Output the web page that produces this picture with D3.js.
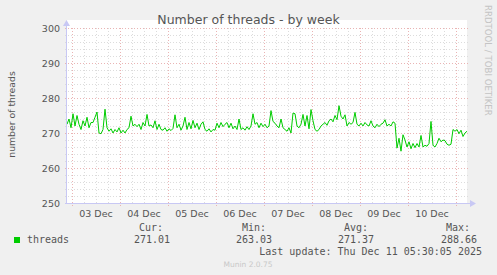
<!DOCTYPE html>
<html lang="en">
<head>
<meta charset="utf-8" />
<title>Number of threads - by week</title>
<script src="https://cdnjs.cloudflare.com/ajax/libs/d3/7.8.5/d3.min.js"></script>
<style>
html, body {
  margin: 0;
  padding: 0;
  background: #f0f0f0;
}
text {
  font-family: "DejaVu Sans", sans-serif;
  fill: #555;
}
.mono {
  font-family: "DejaVu Sans Mono", monospace;
  font-size: 10px;
  fill: #555;
}
</style>
</head>
<body>
<svg id="chart" width="497" height="275"></svg>
<script>
var title = "Number of threads - by week";
var yLabel = "number of threads";
var sideLabel = "RRDTOOL / TOBI OETIKER";
var footer = "Munin 2.0.75";

// one sample per hour
var startTime = Date.UTC(2025, 11, 2, 21, 30);
var endTime = Date.UTC(2025, 11, 11, 5, 30);
var threads = [
  272.5, 274.0, 271.5, 275.5, 272.0, 275.0, 272.5, 271.0, 273.5, 272.0,
  274.5, 271.5, 273.0, 273.0, 274.5, 276.0, 270.0, 269.8, 271.0, 276.8,
  271.5, 270.5, 271.2, 270.0, 271.0, 270.3, 271.5, 270.0, 270.8, 270.0,
  271.0, 271.5, 274.8, 272.0, 272.5, 271.8, 272.5, 271.0, 273.0, 272.0,
  275.3, 272.0, 272.3, 271.5, 273.5, 271.0, 272.5, 271.0, 270.8, 271.5,
  270.5, 271.2, 270.7, 271.3, 275.2, 271.5, 272.5, 270.8, 272.0, 274.5,
  271.0, 273.0, 271.2, 273.6, 271.5, 272.8, 271.0, 272.5, 273.2, 271.0,
  270.5, 271.2, 270.3, 271.0, 270.8, 272.8, 271.5, 273.0, 271.8, 272.5,
  273.0, 271.5, 272.8, 271.2, 272.0, 271.0, 274.0, 271.0, 271.5, 270.8,
  271.8, 271.0, 272.0, 275.5, 272.5, 273.0, 271.5, 272.8, 271.8, 272.5,
  271.5, 272.0, 276.4, 273.3, 272.8, 272.0, 271.5, 274.0, 271.5, 271.0,
  270.5, 271.5, 270.0, 275.7, 275.5, 272.0, 271.5, 272.5, 275.3, 272.0,
  275.0, 271.2, 276.7, 273.5, 271.0, 270.5, 271.0, 272.0, 272.5, 273.0,
  272.2, 273.5, 274.0, 273.2, 275.0, 273.8, 277.8, 274.8, 274.0, 275.2,
  272.0, 273.0, 272.5, 273.0, 275.9, 272.5, 272.0, 272.8, 272.0, 273.0,
  272.3, 272.0, 273.5, 272.0, 271.5, 272.5, 271.8, 272.5, 272.8, 273.8,
  272.0, 272.5, 272.0, 273.2, 272.8, 265.7, 268.5, 264.8, 269.5, 268.0,
  266.0, 267.5, 265.5, 267.0, 265.8, 267.0, 266.0, 269.3, 266.0, 266.5,
  266.2, 267.0, 273.3, 266.5, 266.0, 267.0, 268.5, 267.5, 268.0, 267.8,
  266.8, 266.5, 266.8, 271.0, 270.5, 271.0, 269.8, 270.8, 269.0, 270.0,
  270.5
];

var yTicks = [250, 260, 270, 280, 290, 300];
var dayLabels = ["03 Dec", "04 Dec", "05 Dec", "06 Dec", "07 Dec", "08 Dec", "09 Dec", "10 Dec"];
var seriesName = "threads";
var legendHeads = ["Cur:", "Min:", "Avg:", "Max:"];
var legendValues = ["271.01", "263.03", "271.37", "288.66"];
var lastUpdate = "Last update: Thu Dec 11 05:30:05 2025";

var plot = {left: 67, right: 467, top: 28, bottom: 203};
var lineColor = "#00cc00";

var svg = d3.select("#chart");

var x = d3.scaleUtc()
  .domain([startTime, endTime])
  .range([plot.left, plot.right]);

var y = d3.scaleLinear()
  .domain([250, 300])
  .range([plot.bottom, plot.top]);

// plot background
svg.append("rect")
  .attr("x", plot.left)
  .attr("y", plot.top - 8)
  .attr("width", plot.right - plot.left)
  .attr("height", plot.bottom - plot.top + 8)
  .attr("fill", "#fff");

var grid = svg.append("g").attr("shape-rendering", "crispEdges");
var minorColor = "#dcdcdc";
var majorColor = "#eab4b4";

// minor horizontal grid, every 2
grid.selectAll(".hmin")
  .data(d3.range(252, 300, 2).filter(function(v) { return v % 10 !== 0; }))
  .enter().append("line")
  .attr("x1", plot.left - 2).attr("x2", plot.right + 2)
  .attr("y1", function(d) { return Math.round(y(d)) + 0.5; })
  .attr("y2", function(d) { return Math.round(y(d)) + 0.5; })
  .attr("stroke", minorColor)
  .attr("stroke-dasharray", "1,2");

// minor vertical grid, every 6 hours
grid.selectAll(".vmin")
  .data(d3.utcHour.every(6).range(new Date(startTime), new Date(endTime)).filter(function(d) { return d.getUTCHours() !== 0; }))
  .enter().append("line")
  .attr("x1", function(d) { return Math.round(x(d)) + 0.5; })
  .attr("x2", function(d) { return Math.round(x(d)) + 0.5; })
  .attr("y1", plot.top).attr("y2", plot.bottom + 2)
  .attr("stroke", minorColor)
  .attr("stroke-dasharray", "1,2");

// major horizontal grid
grid.selectAll(".hmaj")
  .data(yTicks)
  .enter().append("line")
  .attr("x1", plot.left - 2).attr("x2", plot.right + 2)
  .attr("y1", function(d) { return Math.round(y(d)) + 0.5; })
  .attr("y2", function(d) { return Math.round(y(d)) + 0.5; })
  .attr("stroke", majorColor)
  .attr("stroke-dasharray", "1,2");

// major vertical grid at midnight
grid.selectAll(".vmaj")
  .data(d3.utcDay.range(new Date(startTime), new Date(endTime)))
  .enter().append("line")
  .attr("x1", function(d) { return Math.round(x(d)) + 0.5; })
  .attr("x2", function(d) { return Math.round(x(d)) + 0.5; })
  .attr("y1", plot.top).attr("y2", plot.bottom + 3)
  .attr("stroke", majorColor)
  .attr("stroke-dasharray", "1,2");

// data line
var line = d3.line()
  .x(function(d, i) { return x(startTime + i * 3600000); })
  .y(function(d) { return y(d); });

svg.append("path")
  .datum(threads)
  .attr("d", line)
  .attr("fill", "none")
  .attr("stroke", lineColor)
  .attr("stroke-width", 1);

// axes with arrows
var axisColor = "#c8c8f4";
svg.append("line")
  .attr("x1", plot.left - 0.5).attr("x2", plot.left - 0.5)
  .attr("y1", plot.bottom + 1).attr("y2", plot.top - 4)
  .attr("stroke", axisColor);
svg.append("path")
  .attr("d", "M" + (plot.left - 4) + "," + (plot.top - 2) + "L" + (plot.left - 0.5) + "," + (plot.top - 8) + "L" + (plot.left + 3) + "," + (plot.top - 2) + "Z")
  .attr("fill", axisColor);
svg.append("line")
  .attr("x1", plot.left - 2).attr("x2", plot.right + 4)
  .attr("y1", plot.bottom + 0.5).attr("y2", plot.bottom + 0.5)
  .attr("stroke", axisColor);
svg.append("path")
  .attr("d", "M" + (plot.right + 3) + "," + (plot.bottom - 3) + "L" + (plot.right + 9) + "," + (plot.bottom + 0.5) + "L" + (plot.right + 3) + "," + (plot.bottom + 4) + "Z")
  .attr("fill", axisColor);

// y tick labels
svg.selectAll(".ylab")
  .data(yTicks)
  .enter().append("text")
  .attr("x", 60)
  .attr("y", function(d) { return y(d) + 3.5; })
  .attr("text-anchor", "end")
  .attr("font-size", "9.5px")
  .text(function(d) { return d; });

// x tick labels at noon
svg.selectAll(".xlab")
  .data(dayLabels)
  .enter().append("text")
  .attr("x", function(d, i) { return x(Date.UTC(2025, 11, 3 + i, 12)); })
  .attr("y", 216.5)
  .attr("text-anchor", "middle")
  .attr("font-size", "9.5px")
  .text(function(d) { return d; });

// title
svg.append("text")
  .attr("x", 248.5)
  .attr("y", 24)
  .attr("text-anchor", "middle")
  .attr("font-size", "12.5px")
  .text(title);

// y axis label
svg.append("text")
  .attr("transform", "translate(15,114.5) rotate(-90)")
  .attr("text-anchor", "middle")
  .attr("font-size", "9.3px")
  .text(yLabel);

// side label
svg.append("text")
  .attr("transform", "translate(485,5) rotate(90)")
  .attr("font-size", "8.6px")
  .style("fill", "#c4c4c4")
  .text(sideLabel);

// legend
svg.append("rect")
  .attr("x", 14).attr("y", 237)
  .attr("width", 6).attr("height", 6)
  .attr("fill", lineColor);
svg.append("text")
  .attr("class", "mono")
  .attr("x", 27).attr("y", 243)
  .text(seriesName);

var headX = [163, 266, 368, 470];
var valueX = [170, 272, 374, 477];
legendHeads.forEach(function(h, i) {
  svg.append("text").attr("class", "mono")
    .attr("x", headX[i]).attr("y", 231)
    .attr("text-anchor", "end")
    .text(h);
  svg.append("text").attr("class", "mono")
    .attr("x", valueX[i]).attr("y", 243)
    .attr("text-anchor", "end")
    .text(legendValues[i]);
});

svg.append("text").attr("class", "mono")
  .attr("x", 482).attr("y", 255)
  .attr("text-anchor", "end")
  .text(lastUpdate);

svg.append("text")
  .attr("x", 248).attr("y", 267)
  .attr("text-anchor", "middle")
  .attr("font-size", "7.5px")
  .style("fill", "#c8c8c8")
  .text(footer);
</script>
</body>
</html>
